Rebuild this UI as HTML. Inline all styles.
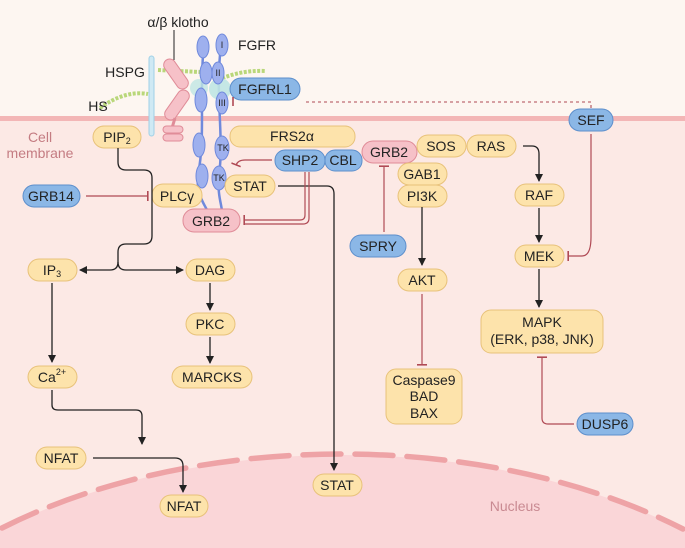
<!DOCTYPE html>
<html><head><meta charset="utf-8"><style>
html,body{margin:0;padding:0;width:685px;height:548px;overflow:hidden}svg{display:block;overflow:hidden}
text{font-family:"Liberation Sans",sans-serif;font-size:14px;fill:#222;text-anchor:middle;dominant-baseline:central}
.y{fill:#fde3ab;stroke:#e8c27a;stroke-width:1}
.b{fill:#8bb7e6;stroke:#5d8fcc;stroke-width:1}
.p{fill:#f6c1c8;stroke:#e08c98;stroke-width:1}
.k{fill:none;stroke:#222;stroke-width:1.3}
.r{fill:none;stroke:#b04a55;stroke-width:1.2}
.f{fill:#9eb0ee;stroke:#6f89dc;stroke-width:1}
</style></head><body>
<svg width="685" height="548" viewBox="0 0 685 548" xmlns="http://www.w3.org/2000/svg">
<defs>
<marker id="a" markerWidth="8" markerHeight="8" refX="7" refY="4" orient="auto" markerUnits="userSpaceOnUse"><path d="M0,0 L8,4 L0,8 Z" fill="#222"/></marker>
<marker id="t" markerWidth="2" markerHeight="10" refX="1" refY="5" orient="auto" markerUnits="userSpaceOnUse"><rect x="0" y="0" width="1.6" height="10" fill="#b04a55"/></marker>
</defs>
<rect width="685" height="548" fill="#fce9e5"/>
<rect width="685" height="118" fill="#fdf6f1"/>
<rect y="116" width="685" height="5" fill="#f3b6b6"/>
<path d="M0,530 A520,305 0 0 1 685,531 L685,548 L0,548 Z" fill="#fad6d8"/>
<path d="M2,528 A520,305 0 0 1 683,529" fill="none" stroke="#eea3a6" stroke-width="5.5" stroke-dasharray="38 14" stroke-linecap="round"/>
<text x="515" y="506" style="fill:#c98a92">Nucleus</text>
<text x="40" y="137" style="fill:#c47c82">Cell</text>
<text x="40" y="153" style="fill:#c47c82">membrane</text>
<path d="M100,108 Q125,90 148,94" fill="none" stroke="#b9d77a" stroke-width="4" stroke-dasharray="3 1.5"/>
<path d="M158,70 L200,72 M218,80 Q240,70 265,71" fill="none" stroke="#b9d77a" stroke-width="4" stroke-dasharray="3 1.5"/>
<rect x="149" y="56" width="5" height="80" rx="2.5" fill="#cfe9f4" stroke="#9fd0e6"/>
<text x="125" y="72">HSPG</text><text x="98" y="106">HS</text>
<line x1="174" y1="30" x2="174" y2="60" stroke="#222"/>
<text x="178" y="22">α/β klotho</text>
<rect x="170" y="57" width="12" height="34" rx="6" transform="rotate(-35 176 74)" class="p"/>
<rect x="171" y="88" width="12" height="34" rx="6" transform="rotate(35 177 105)" class="p"/>
<line x1="175" y1="118" x2="172" y2="128" stroke="#e08c98" stroke-width="3"/>
<rect x="163" y="126" width="20" height="7" rx="3.5" class="p"/><rect x="163" y="134" width="20" height="7" rx="3.5" class="p"/>
<path d="M203,55 C200,100 205,140 198,175 C196,195 205,205 208,212" fill="none" stroke="#6f89dc" stroke-width="2.5"/>
<path d="M220,55 C216,100 224,140 219,175 C217,195 222,205 222,212" fill="none" stroke="#6f89dc" stroke-width="2.5"/>
<circle cx="199" cy="88" r="9" fill="#bfe6e3" opacity=".8"/><circle cx="220" cy="89" r="11" fill="#bfe6e3" opacity=".9"/>
<ellipse cx="203" cy="47" rx="6" ry="11" class="f"/><ellipse cx="206" cy="73" rx="6" ry="11" class="f"/><ellipse cx="201" cy="100" rx="6" ry="12" class="f"/>
<ellipse cx="199" cy="145" rx="6" ry="12" class="f"/><ellipse cx="202" cy="176" rx="6" ry="12" class="f"/>
<ellipse cx="222" cy="45" rx="6" ry="11" class="f"/><ellipse cx="218" cy="73" rx="6" ry="11" class="f"/><ellipse cx="222" cy="103" rx="6" ry="11" class="f"/>
<ellipse cx="222" cy="148" rx="7" ry="12" class="f"/><ellipse cx="219" cy="178" rx="7" ry="12" class="f"/>
<text x="222" y="45" style="font-size:9px">I</text><text x="218" y="73" style="font-size:9px">II</text><text x="222" y="103" style="font-size:9px">III</text>
<text x="223" y="148" style="font-size:9px">TK</text><text x="219" y="178" style="font-size:9px">TK</text>
<text x="257" y="45">FGFR</text>
<rect x="230" y="78" width="70" height="22" rx="11" class="b"/><text x="265" y="89">FGFRL1</text>
<rect x="93" y="126" width="48" height="22" rx="11" class="y"/><text x="117" y="137">PIP<tspan style="font-size:9px" dy="4">2</tspan></text>
<rect x="230" y="126" width="125" height="21" rx="10" class="y"/><text x="292" y="136">FRS2α</text>
<rect x="275" y="150" width="50" height="21" rx="10" class="b"/><text x="300" y="160">SHP2</text>
<rect x="325" y="150" width="37" height="21" rx="10" class="b"/><text x="343" y="160">CBL</text>
<rect x="362" y="141" width="55" height="22" rx="11" class="p"/><text x="389" y="152">GRB2</text>
<rect x="417" y="135" width="49" height="22" rx="11" class="y"/><text x="441" y="146">SOS</text>
<rect x="467" y="135" width="49" height="22" rx="11" class="y"/><text x="491" y="146">RAS</text>
<rect x="398" y="163" width="49" height="22" rx="11" class="y"/><text x="422" y="174">GAB1</text>
<rect x="398" y="185" width="49" height="22" rx="11" class="y"/><text x="422" y="196">PI3K</text>
<rect x="569" y="109" width="44" height="22" rx="11" class="b"/><text x="591" y="120">SEF</text>
<rect x="515" y="184" width="49" height="22" rx="11" class="y"/><text x="539" y="195">RAF</text>
<rect x="515" y="245" width="49" height="22" rx="11" class="y"/><text x="539" y="256">MEK</text>
<rect x="350" y="235" width="56" height="22" rx="11" class="b"/><text x="378" y="246">SPRY</text>
<rect x="398" y="269" width="49" height="22" rx="11" class="y"/><text x="422" y="280">AKT</text>
<rect x="23" y="185" width="57" height="22" rx="11" class="b"/><text x="51" y="196">GRB14</text>
<rect x="152" y="184" width="50" height="23" rx="11" class="y"/><text x="177" y="196">PLCγ</text>
<rect x="225" y="175" width="50" height="22" rx="11" class="y"/><text x="250" y="186">STAT</text>
<rect x="183" y="209" width="57" height="23" rx="11" class="p"/><text x="211" y="221">GRB2</text>
<rect x="28" y="259" width="49" height="22" rx="11" class="y"/><text x="52" y="270">IP<tspan style="font-size:9px" dy="4">3</tspan></text>
<rect x="186" y="259" width="49" height="22" rx="11" class="y"/><text x="210" y="270">DAG</text>
<rect x="186" y="313" width="49" height="22" rx="11" class="y"/><text x="210" y="324">PKC</text>
<rect x="172" y="366" width="80" height="22" rx="11" class="y"/><text x="212" y="377">MARCKS</text>
<rect x="28" y="366" width="49" height="22" rx="11" class="y"/><text x="52" y="377">Ca<tspan style="font-size:9px" dy="-5">2+</tspan></text>
<rect x="481" y="310" width="122" height="43" rx="10" class="y"/><text x="542" y="322">MAPK</text><text x="542" y="339">(ERK, p38, JNK)</text>
<rect x="386" y="369" width="76" height="55" rx="10" class="y"/><text x="424" y="380">Caspase9</text><text x="424" y="396">BAD</text><text x="424" y="413">BAX</text>
<rect x="577" y="413" width="56" height="22" rx="11" class="b"/><text x="605" y="424">DUSP6</text>
<rect x="36" y="447" width="50" height="22" rx="11" class="y"/><text x="61" y="458">NFAT</text>
<rect x="160" y="495" width="48" height="22" rx="11" class="y"/><text x="184" y="506">NFAT</text>
<rect x="313" y="474" width="49" height="22" rx="11" class="y"/><text x="337" y="485">STAT</text>
<path d="M118,148 V162 Q118,170 126,170 H144 Q152,170 152,178 V236 Q152,244 144,244 H126 Q118,244 118,252 V262" class="k"/>
<path d="M118,262 Q118,270 110,270 H80" class="k" marker-end="url(#a)"/>
<path d="M118,262 Q118,270 126,270 H183" class="k" marker-end="url(#a)"/>
<path d="M52,283 V362" class="k" marker-end="url(#a)"/>
<path d="M210,283 V310" class="k" marker-end="url(#a)"/>
<path d="M210,337 V363" class="k" marker-end="url(#a)"/>
<path d="M52,390 V405 Q52,410 58,410 H136 Q142,410 142,416 V444" class="k" marker-end="url(#a)"/>
<path d="M93,458 H175 Q183,458 183,466 V492" class="k" marker-end="url(#a)"/>
<path d="M278,186 H327 Q334,186 334,194 V470" class="k" marker-end="url(#a)"/>
<path d="M422,207 V265" class="k" marker-end="url(#a)"/>
<path d="M523,146 H532 Q539,146 539,154 V181" class="k" marker-end="url(#a)"/>
<path d="M539,208 V242" class="k" marker-end="url(#a)"/>
<path d="M539,269 V307" class="k" marker-end="url(#a)"/>
<path d="M86,196 H148" class="r" marker-end="url(#t)"/>
<path d="M272,160 H245 Q238,160 236,165" class="r" marker-end="url(#t)"/>
<path d="M305,172 V215 Q305,220 300,220 H244" class="r" marker-end="url(#t)"/>
<path d="M309,172 V218 Q309,224 303,224 H244" class="r"/>
<path d="M384,232 V166" class="r" marker-end="url(#t)"/>
<path d="M422,294 V365" class="r" marker-end="url(#t)"/>
<path d="M591,134 V237 Q591,256 582,256 H568" class="r" marker-end="url(#t)"/>
<path d="M574,424 H548 Q542,424 542,418 V357" class="r" marker-end="url(#t)"/>
<path d="M306,102 H591 V108" fill="none" stroke="#b04a55" stroke-width="1.1" stroke-dasharray="3 3"/>
<line x1="233" y1="97" x2="233" y2="106" stroke="#b04a55" stroke-width="1.6"/>
</svg>
</body></html>
